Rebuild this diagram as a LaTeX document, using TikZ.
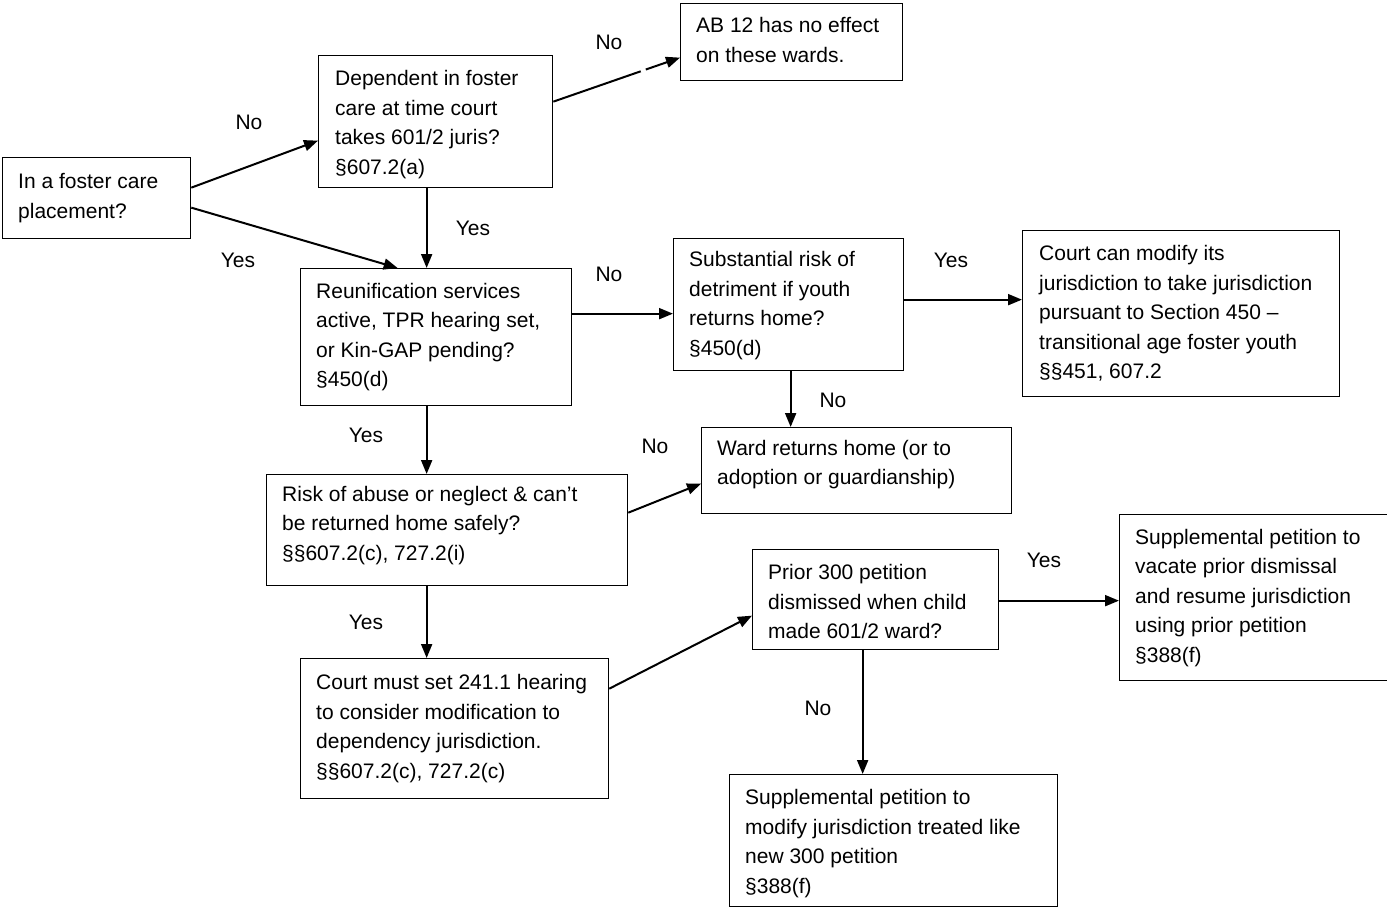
\documentclass[tikz,border=0pt]{standalone}
\usepackage{fontspec}
\setmainfont{Liberation Sans}
\usetikzlibrary{arrows.meta,calc}
\tikzset{
  box/.style={draw, line width=1.3pt, anchor=north west, inner sep=0pt},
  txt/.style={anchor=west, align=left, inner sep=0pt, font=\fontsize{21}{29.5}\selectfont},
  conn/.style={line width=2pt, -{Triangle[length=14pt,width=11pt]}},
  plain/.style={line width=2pt},
  lbl/.style={font=\fontsize{21}{25}\selectfont, inner sep=0pt}
}
\begin{document}
\begin{tikzpicture}[x=1pt,y=-1pt]
\useasboundingbox (0,0) rectangle (1387,906);
\node[box, minimum width=188pt, minimum height=81pt] (b1) at (2,157) {};
\node[box, minimum width=234pt, minimum height=132pt] (b2) at (318,55) {};
\node[box, minimum width=222pt, minimum height=77pt] (b3) at (680,3) {};
\node[box, minimum width=271pt, minimum height=137pt] (b4) at (300,268) {};
\node[box, minimum width=230pt, minimum height=132pt] (b5) at (673,238) {};
\node[box, minimum width=317pt, minimum height=166pt] (b6) at (1022,230) {};
\node[box, minimum width=310pt, minimum height=86pt] (b7) at (701,427) {};
\node[box, minimum width=361pt, minimum height=111pt] (b8) at (266,474) {};
\node[box, minimum width=246pt, minimum height=100pt] (b9) at (752,549) {};
\node[box, minimum width=268pt, minimum height=166pt] (b10) at (1119,514) {};
\node[box, minimum width=308pt, minimum height=140pt] (b11) at (300,658) {};
\node[box, minimum width=328pt, minimum height=132pt] (b12) at (729,774) {};

\node[txt] (t1) at ([xshift=16pt,yshift=0pt]b1.west) {In a foster care\\placement?};
\node[txt] (t2) at ([xshift=17pt,yshift=-3pt]b2.west) {Dependent in foster\\care at time court\\takes 601/2 juris?\\§607.2(a)};
\node[txt] (t3) at ([xshift=16pt,yshift=2pt]b3.west) {AB 12 has no effect\\on these wards.};
\node[txt] (t4) at ([xshift=16pt,yshift=0pt]b4.west) {Reunification services\\active, TPR hearing set,\\or Kin-GAP pending?\\§450(d)};
\node[txt] (t5) at ([xshift=16pt,yshift=-1pt]b5.west) {Substantial risk of\\detriment if youth\\returns home?\\§450(d)};
\node[txt] (t6) at ([xshift=17pt,yshift=0pt]b6.west) {Court can modify its\\jurisdiction to take jurisdiction\\pursuant to Section 450 –\\transitional age foster youth\\§§451, 607.2};
\node[txt] (t7) at ([xshift=16pt,yshift=6pt]b7.west) {Ward returns home (or to\\adoption or guardianship)};
\node[txt] (t8) at ([xshift=16pt,yshift=5pt]b8.west) {Risk of abuse or neglect \& can’t\\be returned home safely?\\§§607.2(c), 727.2(i)};
\node[txt] (t9) at ([xshift=16pt,yshift=-2pt]b9.west) {Prior 300 petition\\dismissed when child\\made 601/2 ward?};
\node[txt] (t10) at ([xshift=16pt,yshift=0pt]b10.west) {Supplemental petition to\\vacate prior dismissal\\and resume jurisdiction\\using prior petition\\§388(f)};
\node[txt] (t11) at ([xshift=16pt,yshift=0pt]b11.west) {Court must set 241.1 hearing\\to consider modification to\\dependency jurisdiction.\\§§607.2(c), 727.2(c)};
\node[txt] (t12) at ([xshift=16pt,yshift=-3pt]b12.west) {Supplemental petition to\\modify jurisdiction treated like\\new 300 petition\\§388(f)};

% connectors
\draw[conn] ([yshift=10.5pt]b1.east) -- ([yshift=-19pt]b2.west);
\draw[conn] ([yshift=-9.5pt]b1.east) -- ([xshift=-38.5pt]b4.north);
\draw[conn] ([xshift=-9pt]b2.south) -- ([xshift=-9.5pt]b4.north);
\coordinate (g1) at ($([yshift=20pt]b2.east)!0.69!([yshift=-15.5pt]b3.west)$);
\coordinate (g2) at ($([yshift=20pt]b2.east)!0.73!([yshift=-15.5pt]b3.west)$);
\draw[plain] ([yshift=20pt]b2.east) -- (g1);
\draw[conn] (g2) -- ([yshift=-15.5pt]b3.west);
\draw[conn] ([yshift=23.5pt]b4.east) -- ([yshift=23.5pt]b4.east -| b5.west);
\draw[conn] ([yshift=5pt]b5.east) -- ([yshift=5pt]b5.east -| b6.west);
\draw[conn] ([xshift=2pt]b5.south) -- ([xshift=2pt]b5.south |- b7.north);
\draw[conn] ([xshift=-9.5pt]b4.south) -- ([xshift=-9.5pt]b4.south |- b8.north);
\draw[conn] ([yshift=17.5pt]b8.east) -- ([yshift=-13pt]b7.west);
\draw[conn] ([xshift=-20.5pt]b8.south) -- ([xshift=-20.5pt]b8.south |- b11.north);
\draw[conn] ([yshift=40pt]b11.east) -- ([yshift=-16pt]b9.west);
\draw[conn] ([yshift=-1pt]b9.east) -- ([yshift=-1pt]b9.east -| b10.west);
\draw[conn] ([xshift=-13pt]b9.south) -- ([xshift=-13pt]b9.south |- b12.north);

% labels
\node[lbl] (l1) at (249,122) {No};
\node[lbl] (l2) at (238,260) {Yes};
\node[lbl] (l3) at (473,228) {Yes};
\node[lbl] (l4) at (609,42) {No};
\node[lbl] (l5) at (609,274) {No};
\node[lbl] (l6) at (951,260) {Yes};
\node[lbl] (l7) at (833,400) {No};
\node[lbl] (l8) at (366,435) {Yes};
\node[lbl] (l9) at (655,446) {No};
\node[lbl] (l10) at (366,622) {Yes};
\node[lbl] (l11) at (1044,560) {Yes};
\node[lbl] (l12) at (818,708) {No};
\end{tikzpicture}
\end{document}
